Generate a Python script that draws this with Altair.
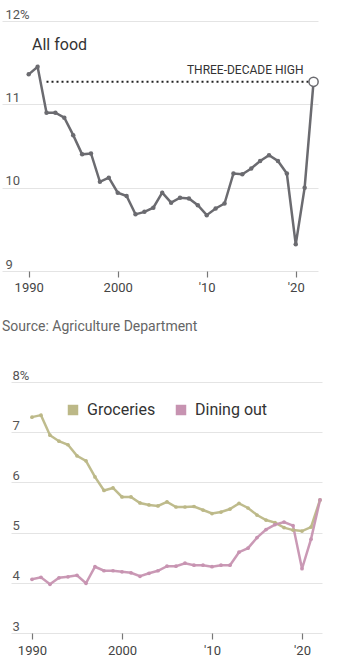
import altair as alt
import pandas as pd

years = list(range(1990, 2023))
all_food = [11.36, 11.45, 10.90, 10.90, 10.84, 10.63, 10.40, 10.41, 10.07, 10.12,
            9.94, 9.90, 9.68, 9.71, 9.76, 9.94, 9.82, 9.88, 9.87, 9.79,
            9.67, 9.75, 9.81, 10.17, 10.16, 10.23, 10.32, 10.39, 10.32, 10.17,
            9.32, 10.00, 11.27]
groceries = [7.30, 7.34, 6.94, 6.82, 6.75, 6.53, 6.43, 6.11, 5.84, 5.89,
             5.71, 5.71, 5.59, 5.55, 5.53, 5.61, 5.51, 5.51, 5.52, 5.45,
             5.38, 5.41, 5.47, 5.58, 5.49, 5.35, 5.25, 5.20, 5.10, 5.05,
             5.03, 5.11, 5.65]
dining_out = [4.07, 4.11, 3.97, 4.10, 4.12, 4.15, 3.99, 4.32, 4.24, 4.24,
              4.22, 4.20, 4.13, 4.19, 4.24, 4.33, 4.33, 4.39, 4.35, 4.35,
              4.32, 4.35, 4.35, 4.61, 4.69, 4.90, 5.06, 5.16, 5.21, 5.14,
              4.28, 4.87, 5.65]
tick_years = [1990, 2000, 2010, 2020]
series_names = ["Groceries", "Dining out"]
series_colors = ["#bcb887", "#c793b1"]

FONT = "Roboto"
GRAY = "#6b6b70"
year_label = "datum.value < 2005 ? toString(datum.value) : \"'\" + substring(toString(datum.value), 2, 4)"

# ---------- top chart ----------
top_df = pd.DataFrame({"year": years, "value": all_food})
high_df = top_df.tail(1).assign(start=1992)
one_row = pd.DataFrame({"k": [0]})

xs_top = alt.Scale(domain=[1987, 2022.5], nice=False, zero=False)
ys_top = alt.Scale(domain=[9, 12], nice=False, zero=False)

x_axis_top = alt.Axis(values=tick_years, labelExpr=year_label, title=None, grid=False,
                      domain=False, ticks=True, tickSize=6, tickColor="#777",
                      tickWidth=1.2, labelPadding=4, labelFontSize=13,
                      labelColor="#444", labelFont=FONT)
y_axis_top = alt.Axis(values=[9, 10, 11, 12], title=None, format="d",
                      labelExpr="datum.value == 12 ? '12%' : format(datum.value, 'd')",
                      grid=True, gridColor="#e4e4e4", gridWidth=1, domain=False,
                      ticks=False, tickSize=0, labelAlign="left", labelPadding=-3,
                      labelBaseline="alphabetic", labelOffset=-3, labelFontSize=13,
                      labelColor="#555", labelFont=FONT)

base_top = alt.Chart(top_df).encode(
    x=alt.X("year:Q", scale=xs_top, axis=x_axis_top),
    y=alt.Y("value:Q", scale=ys_top, axis=y_axis_top),
)
top_line = base_top.mark_line(color=GRAY, strokeWidth=2.5)
top_dots = base_top.transform_filter("datum.year < 2022").mark_circle(
    color=GRAY, size=20, opacity=1)
top_rule = alt.Chart(high_df).mark_rule(
    color="#222", strokeWidth=2, strokeDash=[2, 3]).encode(
    x=alt.X("start:Q", scale=xs_top), x2="year:Q",
    y=alt.Y("value:Q", scale=ys_top))
top_end = alt.Chart(high_df).mark_point(
    filled=True, fill="white", stroke=GRAY, strokeWidth=1.5, size=85, opacity=1).encode(
    x=alt.X("year:Q", scale=xs_top), y=alt.Y("value:Q", scale=ys_top))
top_note = alt.Chart(high_df).mark_text(
    align="right", baseline="middle", dx=-10, dy=-12, fontSize=12, font=FONT,
    color="#333").encode(
    x=alt.X("year:Q", scale=xs_top), y=alt.Y("value:Q", scale=ys_top),
    text=alt.value("THREE-DECADE HIGH"))
top_title = alt.Chart(one_row).mark_text(
    align="left", baseline="middle", fontSize=16, font=FONT, color="#333").encode(
    x=alt.value(30), y=alt.value(24), text=alt.value("All food"))

top = alt.layer(top_line, top_dots, top_rule, top_end, top_note, top_title).properties(
    width=316, height=250)

# ---------- bottom chart ----------
bot_df = pd.DataFrame({
    "year": years * 2,
    "value": groceries + dining_out,
    "series": [series_names[0]] * len(years) + [series_names[1]] * len(years),
})

xs_bot = alt.Scale(domain=[1987.67, 2022.22], nice=False, zero=False)
ys_bot = alt.Scale(domain=[3, 8], nice=False, zero=False)
color_scale = alt.Scale(domain=series_names, range=series_colors)

x_axis_bot = alt.Axis(values=tick_years, labelExpr=year_label, title=None, grid=False,
                      domain=False, ticks=True, tickSize=6, tickColor="#777",
                      tickWidth=1.2, labelPadding=5, labelFontSize=13,
                      labelColor="#444", labelFont=FONT)
y_axis_bot = alt.Axis(values=[3, 4, 5, 6, 7, 8], title=None,
                      labelExpr="datum.value == 8 ? '8%' : format(datum.value, 'd')",
                      grid=True, gridColor="#e4e4e4", gridWidth=1, domain=False,
                      ticks=False, tickSize=0, labelAlign="left", labelPadding=-1,
                      labelBaseline="alphabetic", labelOffset=-3, labelFontSize=13,
                      labelColor="#555", labelFont=FONT)

legend = alt.Legend(title=None, orient="none", legendX=63, legendY=381,
                    direction="horizontal", symbolType="square",
                    symbolSize=110, symbolStrokeWidth=0, symbolOpacity=1,
                    labelFontSize=16, labelFont=FONT, labelColor="#333",
                    labelOffset=6, columnPadding=17)

base_bot = alt.Chart(bot_df).encode(
    x=alt.X("year:Q", scale=xs_bot, axis=x_axis_bot),
    y=alt.Y("value:Q", scale=ys_bot, axis=y_axis_bot),
    color=alt.Color("series:N", scale=color_scale, legend=legend),
)
bot_lines = base_bot.mark_line(strokeWidth=2.5, opacity=0.95)
bot_dots = base_bot.mark_circle(size=14, opacity=1)

bottom_plot = alt.layer(bot_lines, bot_dots).properties(width=311, height=251)

# thin empty cell that pushes the lower plot a little to the right
indent = alt.Chart(one_row).mark_point(opacity=0, size=0).encode(
    x=alt.value(0), y=alt.value(0)).properties(width=1, height=251)

bottom = alt.hconcat(indent, bottom_plot, spacing=8).properties(
    title=alt.TitleParams("Source: Agriculture Department", anchor="start",
                          frame="bounds", fontSize=14, fontWeight="normal",
                          color="#666", font=FONT, offset=35))

chart = alt.vconcat(top, bottom, spacing=26).properties(
    padding={"left": 2, "top": 8, "right": 0, "bottom": 0}
).configure_view(stroke=None)

chart.save("out.html", embed_options={"renderer": "svg", "actions": False})
